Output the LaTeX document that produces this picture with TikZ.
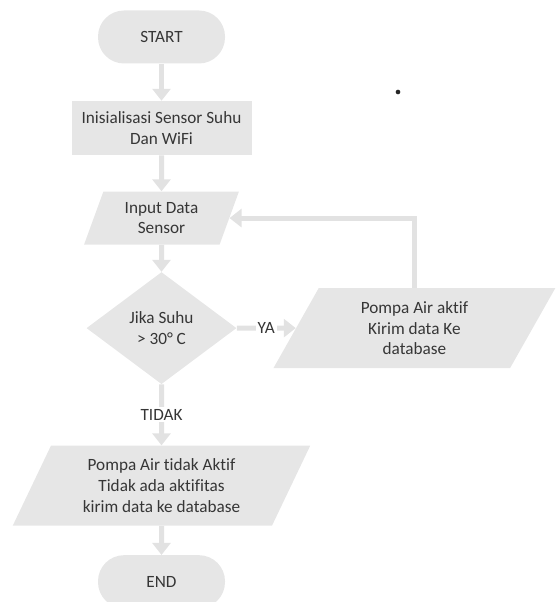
\documentclass[tikz,border=0pt]{standalone}
\usepackage{fontspec}
\setmainfont{Carlito}[Ligatures=NoCommon]
\usepackage{xcolor}
\usepackage{tikz}
\usetikzlibrary{arrows.meta, positioning, shapes.geometric}

\definecolor{boxgray}{HTML}{E6E6E6}
\definecolor{linegray}{HTML}{E2E2E2}
\definecolor{textgray}{HTML}{363636}
\newcommand{\flowfont}{\fontsize{12.9pt}{15.5pt}\selectfont}

\begin{document}
\begin{tikzpicture}[
    x=0.75pt, y=-0.75pt,
    font=\flowfont,
    text=textgray,
    terminal/.style={
      fill=boxgray,
      rounded corners=19.5pt,
      align=center,
      minimum width=95.25pt,
      minimum height=39.75pt
    },
    block/.style={
      fill=boxgray,
      align=center,
      minimum width=135pt,
      minimum height=40.5pt
    },
    ioblock/.style={
      trapezium,
      trapezium stretches=true,
      fill=boxgray,
      align=center,
      inner sep=0pt
    },
    decision/.style={
      diamond,
      fill=boxgray,
      align=center,
      inner sep=0pt,
      minimum width=112.5pt,
      minimum height=84pt
    },
    arrow/.style={
      -{Triangle[width=13.5pt,length=9pt]},
      draw=linegray,
      line width=3.75pt
    },
    tag/.style={fill=white, inner sep=1.5pt}
]

\useasboundingbox (0,0) rectangle (558,602);

% 1) Start
\node[terminal] (start) at (161.5,37) {START};

% 2) Init sensor and wifi
\node[block, below=27.75pt of start] (init) {Inisialisasi Sensor Suhu\\Dan WiFi};

% 3) Read sensor
\node[ioblock, below=27pt of init,
      trapezium left angle=69, trapezium right angle=111,
      minimum width=116.25pt, minimum height=39.75pt] (input) {Input Data\\Sensor};

% 4) Check temperature
\node[decision, below=20.25pt of input] (cond) {Jika Suhu\\> 30° C};

% 5) Pump on (YA)
\node[ioblock, right=44.25pt of cond,
      trapezium left angle=64.6, trapezium right angle=115.4,
      minimum width=211.5pt, minimum height=60pt] (pumpOn)
      {Pompa Air aktif\\Kirim data Ke\\database};

% 6) Pump off (TIDAK)
\node[ioblock, below=45.75pt of cond,
      trapezium left angle=63, trapezium right angle=117,
      minimum width=223.5pt, minimum height=60pt] (pumpOff)
      {Pompa Air tidak Aktif\\Tidak ada aktifitas\\kirim data ke database};

% 7) End
\node[terminal, below=21.75pt of pumpOff] (finish) {END};

% stray dot
\node[circle, fill=black!85, inner sep=0pt, minimum size=3.5pt] (dot) at (398,92) {};

% ARROWS
\draw[arrow] (start) -- (init);
\draw[arrow] (init) -- (input);
\draw[arrow] (input) -- (cond);
\draw[arrow] (cond) -- node[tag]{YA} (pumpOn);
\draw[arrow] (cond) -- node[tag]{TIDAK} (pumpOff);
\draw[arrow] (pumpOff) -- (finish);

% loop back to input
\draw[arrow] (pumpOn.north) |- (input.east);

\end{tikzpicture}
\end{document}
